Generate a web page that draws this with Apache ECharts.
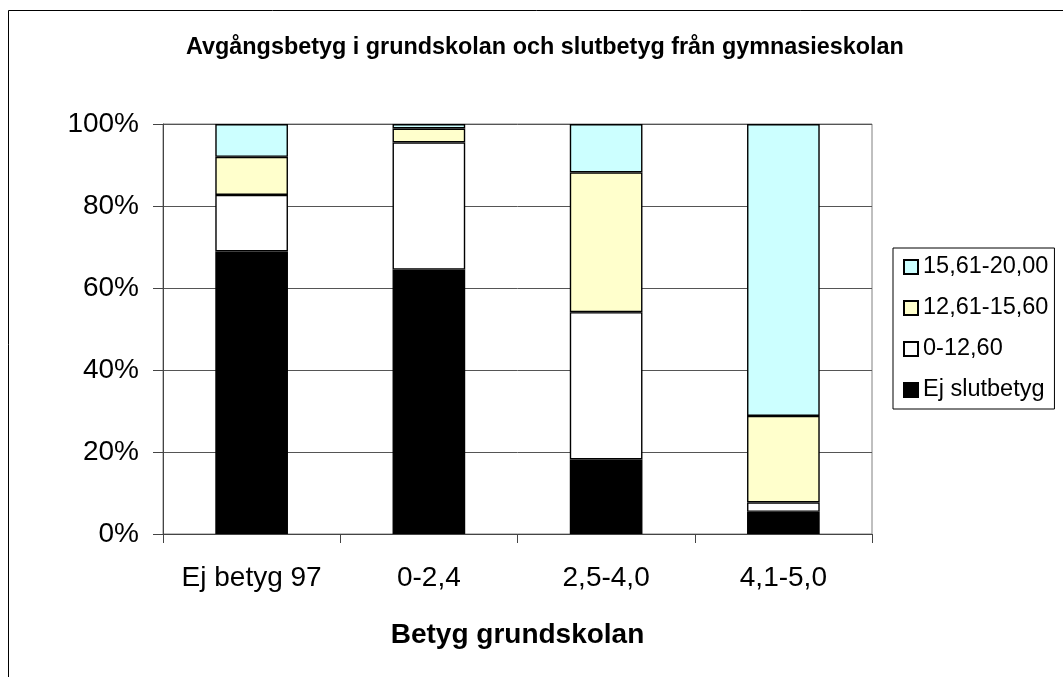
<!DOCTYPE html>
<html>
<head>
<meta charset="utf-8">
<script src="https://cdn.jsdelivr.net/npm/echarts@6/dist/echarts.min.js"></script>
<style>
html,body{margin:0;padding:0;background:#fff;}
#chart{width:1063px;height:677px;}
</style>
</head>
<body>
<div id="chart"></div>
<script>
const categories = ['Ej betyg 97', '0-2,4', '2,5-4,0', '4,1-5,0'];
const ejSlutbetyg = [68.9, 64.5, 18.2, 5.4];
const low = [13.8, 31.0, 35.9, 2.3];
const mid = [9.3, 3.4, 34.1, 21.1];
const high = [8.0, 1.1, 11.8, 71.2];
const seriesNames = ['Ej slutbetyg', '0-12,60', '12,61-15,60', '15,61-20,00'];
const seriesColors = ['#000000', '#FFFFFF', '#FFFFCC', '#CCFFFF'];
const seriesData = [ejSlutbetyg, low, mid, high];

const FONT = '"Liberation Sans", Arial, sans-serif';
const chart = echarts.init(document.getElementById('chart'));
chart.setOption({
  animation: false,
  backgroundColor: '#fff',
  textStyle: { fontFamily: FONT },
  graphic: [{
    type: 'rect', shape: { x: 8.5, y: 10.5, width: 1100, height: 700 },
    style: { fill: 'none', stroke: '#000', lineWidth: 1 }, silent: true, z: -1
  }],
  title: {
    text: 'Avgångsbetyg i grundskolan och slutbetyg från gymnasieskolan',
    left: 181, top: 31,
    textStyle: { fontFamily: FONT, fontSize: 23.4, fontWeight: 'bold', color: '#000' }
  },
  legend: {
    orient: 'vertical', left: 893, top: 248,
    data: ['15,61-20,00', '12,61-15,60', '0-12,60', 'Ej slutbetyg'],
    icon: 'rect', itemWidth: 14, itemHeight: 14, itemGap: 17,
    padding: [7, 6, 7, 10],
    borderColor: '#000', borderWidth: 1,
    textStyle: { fontFamily: FONT, fontSize: 23.5, color: '#000' }
  },
  grid: {
    left: 163, right: 191, top: 124, bottom: 143,
    show: true, borderColor: '#808080', borderWidth: 1
  },
  xAxis: {
    type: 'category', data: categories,
    axisLine: { lineStyle: { color: '#444', width: 1 } },
    axisTick: { show: true, length: 9, interval: 0, alignWithLabel: false, lineStyle: { color: '#444' } },
    axisLabel: { fontFamily: FONT, fontSize: 28, color: '#000', margin: 30, interval: 0 },
    name: 'Betyg grundskolan', nameLocation: 'middle', nameGap: 87,
    nameTextStyle: { fontFamily: FONT, fontSize: 28, fontWeight: 'bold', color: '#000' }
  },
  yAxis: {
    type: 'value', min: 0, max: 100, interval: 20,
    axisLine: { show: true, lineStyle: { color: '#444', width: 1 } },
    axisTick: { show: true, length: 10, lineStyle: { color: '#444' } },
    axisLabel: { fontFamily: FONT, fontSize: 28, color: '#000', margin: 24, formatter: '{value}%' },
    splitLine: { show: true, lineStyle: { color: '#555', width: 1 } }
  },
  series: seriesNames.map((name, i) => ({
    name: name, type: 'bar', stack: 'total', barWidth: '41%',
    data: seriesData[i],
    itemStyle: { color: seriesColors[i], borderColor: '#000', borderWidth: 1.4 }
  }))
});
</script>
</body>
</html>
